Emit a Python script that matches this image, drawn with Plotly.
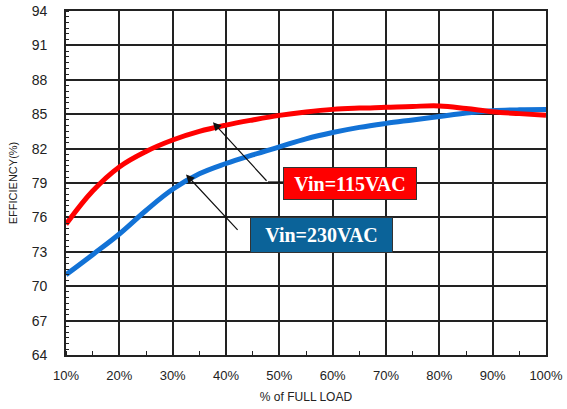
import plotly.graph_objects as go

load_pct = [10, 15, 20, 25, 30, 35, 40, 45, 50, 55, 60, 65, 70, 75, 80, 85, 90, 95, 100]
eff_115 = [75.4, 78.3, 80.4, 81.75, 82.75, 83.5, 84.05, 84.5, 84.9, 85.2, 85.42, 85.53, 85.6, 85.68, 85.72, 85.5, 85.22, 85.05, 84.9]
eff_230 = [71.0, 72.75, 74.55, 76.6, 78.45, 79.8, 80.7, 81.45, 82.15, 82.85, 83.4, 83.85, 84.2, 84.5, 84.8, 85.1, 85.3, 85.38, 85.4]
x_ticks = [10, 20, 30, 40, 50, 60, 70, 80, 90, 100]
y_ticks = [64, 67, 70, 73, 76, 79, 82, 85, 88, 91, 94]
label_115 = "Vin=115VAC"
label_230 = "Vin=230VAC"

fig = go.Figure()
fig.add_trace(go.Scatter(x=load_pct, y=eff_230, mode="lines", line=dict(color="#1272d6", width=5, shape="spline", smoothing=1.1), showlegend=False, hoverinfo="skip"))
fig.add_trace(go.Scatter(x=load_pct, y=eff_115, mode="lines", line=dict(color="#ff0000", width=5, shape="spline", smoothing=1.1), showlegend=False, hoverinfo="skip"))

grid = "#222222"
fig.update_xaxes(range=[10, 100], tickvals=x_ticks, ticktext=[f"{v}%" for v in x_ticks], automargin=False,
                 showgrid=True, gridcolor=grid, gridwidth=1.6, showline=True, linecolor=grid, linewidth=1.6, mirror=True,
                 ticks="", ticklabelstandoff=8, zeroline=False,
                 tickfont=dict(family="Liberation Sans, Arial", size=13, color="#222"),
                 minor=dict(dtick=5, tick0=10, ticks="inside", ticklen=4, tickcolor=grid, tickwidth=1.2, showgrid=False),
                 title=dict(text="% of FULL LOAD", font=dict(family="Liberation Sans, Arial", size=12, color="#222"), standoff=10))
fig.update_yaxes(range=[64, 94], tickvals=y_ticks, automargin=False,
                 showgrid=True, gridcolor=grid, gridwidth=1.6, showline=True, linecolor=grid, linewidth=1.6, mirror=True,
                 ticks="", ticklabelstandoff=14, zeroline=False,
                 tickfont=dict(family="Liberation Sans, Arial", size=14, color="#222"),
                 minor=dict(dtick=0.5, tick0=64, ticks="inside", ticklen=3, tickcolor=grid, tickwidth=1, showgrid=False),
                 title=dict(text="EFFICIENCY(%)", font=dict(family="Liberation Sans, Arial", size=11, color="#222"), standoff=12))

# arrows
fig.add_annotation(x=37.55, y=84.3, ax=55, ay=60, xref="x", yref="y", showarrow=True, arrowhead=2, arrowsize=1.4, arrowwidth=1.2, arrowcolor="#111", text="")
fig.add_annotation(x=32.5, y=79.75, ax=53, ay=57, xref="x", yref="y", showarrow=True, arrowhead=2, arrowsize=1.4, arrowwidth=1.2, arrowcolor="#111", text="")
fig.add_shape(type="line", xref="paper", yref="paper", x0=(268-66)/480, x1=(284-66)/480, y0=(355-182)/344, y1=(355-182)/344, line=dict(color="#111", width=1.2))

# label boxes
fig.add_annotation(x=(350-66)/480, y=(355-183.5)/344, xref="paper", yref="paper", showarrow=False,
                   text=f"<b>{label_115}</b>", font=dict(family="Liberation Serif, Times New Roman", size=20, color="white"),
                   bgcolor="#ff0000", bordercolor="#333", borderwidth=1, width=130, height=29, borderpad=1)
fig.add_annotation(x=(321.5-66)/480, y=(355-235)/344, xref="paper", yref="paper", showarrow=False,
                   text=f"<b>{label_230}</b>", font=dict(family="Liberation Serif, Times New Roman", size=20, color="white"),
                   bgcolor="#0b6399", bordercolor="#333", borderwidth=1, width=139, height=32, borderpad=1)

fig.update_layout(width=567, height=409, margin=dict(l=66, r=21, t=11, b=54),
                  plot_bgcolor="white", paper_bgcolor="white", hovermode=False)
fig.write_html("out.html", config={"displayModeBar": False},
               post_script="document.body.style.margin='0';document.body.style.overflow='hidden';")
